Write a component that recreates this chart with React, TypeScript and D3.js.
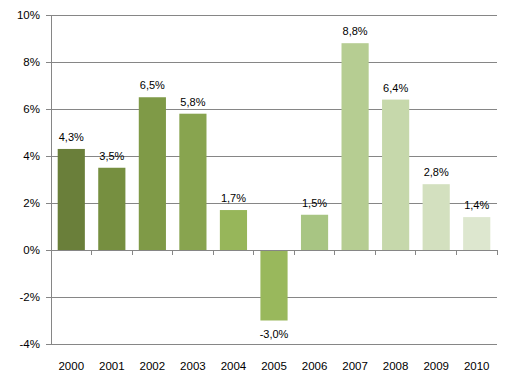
import React from "react";
import * as d3 from "d3";

const years = ["2000", "2001", "2002", "2003", "2004", "2005", "2006", "2007", "2008", "2009", "2010"];
const growth = [4.3, 3.5, 6.5, 5.8, 1.7, -3.0, 1.5, 8.8, 6.4, 2.8, 1.4];
const barColors = ["#6a7f3a", "#768f40", "#7f9a47", "#88a44f", "#97b65a", "#99b85c", "#a8c583", "#b6cd92", "#c6d8ab", "#d3e0bf", "#dde7cf"];
const yTicks = [-4, -2, 0, 2, 4, 6, 8, 10];

const width = 513;
const height = 389;
const margin = { top: 15, right: 16, bottom: 45, left: 51 };

const fmt = (v: number) => v.toFixed(1).replace(".", ",") + "%";

export default function App() {
  const x = d3.scaleBand<string>()
    .domain(years)
    .range([margin.left, width - margin.right])
    .paddingInner(0.33)
    .paddingOuter(0.165);
  const y = d3.scaleLinear().domain([-4, 10]).range([height - margin.bottom, margin.top]);

  const step = x.step();
  const left = margin.left;
  const right = width - margin.right;
  const font = "'Liberation Sans', Arial, sans-serif";

  return (
    <svg width={width} height={height} style={{ position: "absolute", left: 0, top: 0, background: "#fff" }}>
      {yTicks.map(t => (
        <g key={t}>
          <line x1={left - 5} x2={right} y1={y(t)} y2={y(t)} stroke="#868686" strokeWidth={1} shapeRendering="crispEdges" />
          <text x={left - 11} y={y(t)} dy="0.35em" textAnchor="end" fontSize={11.5} fontFamily={font} fill="#000">{t}%</text>
        </g>
      ))}
      <line x1={left} x2={left} y1={margin.top} y2={y(-4)} stroke="#868686" shapeRendering="crispEdges" />
      {years.map((yr, i) => (
        <rect key={yr} x={x(yr)} width={x.bandwidth()}
          y={y(Math.max(0, growth[i]))} height={Math.abs(y(growth[i]) - y(0))} fill={barColors[i]} />
      ))}
      {years.map((yr, i) => (
        <line key={"t" + yr} x1={left + step * (i + 1)} x2={left + step * (i + 1)} y1={y(0)} y2={y(0) + 5}
          stroke="#868686" shapeRendering="crispEdges" />
      ))}
      <line x1={left} x2={right} y1={y(0)} y2={y(0)} stroke="#868686" shapeRendering="crispEdges" />
      {years.map((yr, i) => {
        const v = growth[i];
        const cx = (x(yr) as number) + x.bandwidth() / 2;
        const ty = v >= 0 ? y(v) - 8 : y(v) + 17;
        return (
          <text key={"l" + yr} x={cx} y={ty} textAnchor="middle" fontSize={11} fontFamily={font} fill="#000">{fmt(v)}</text>
        );
      })}
      {years.map(yr => (
        <text key={"x" + yr} x={(x(yr) as number) + x.bandwidth() / 2} y={y(-4) + 26} textAnchor="middle"
          fontSize={11.5} fontFamily={font} fill="#000">{yr}</text>
      ))}
    </svg>
  );
}
